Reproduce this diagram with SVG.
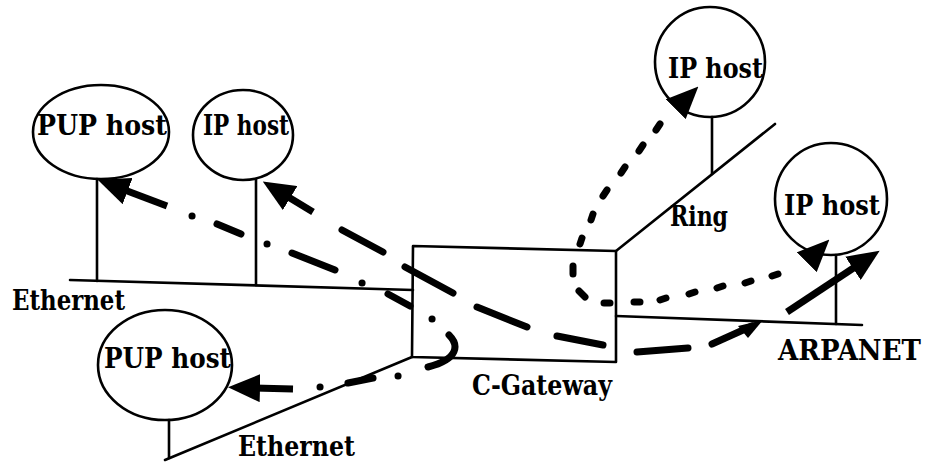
<svg xmlns="http://www.w3.org/2000/svg" width="933" height="463" viewBox="0 0 933 463">
<style>
.net{fill:none;stroke:#000;stroke-width:2.6;stroke-linecap:round;stroke-linejoin:round}
.host{fill:none;stroke:#000;stroke-width:2.6}
.lbl{font-family:"DejaVu Serif","Liberation Serif",serif;font-weight:bold;font-size:27px;fill:#000}
.flow{fill:none;stroke:#000;stroke-width:7;stroke-linecap:round;stroke-linejoin:round}
.shaft{fill:none;stroke:#000;stroke-width:7;stroke-linecap:butt}
.headonly{fill:none;stroke:none}
</style>
<defs>
<marker id="ah" viewBox="0 0 32 28" markerWidth="32" markerHeight="28" markerUnits="userSpaceOnUse" refX="6" refY="14" orient="auto">
<path d="M0,0 L32,14 L0,28 Z" fill="#000"/>
</marker>
</defs>
<rect width="933" height="463" fill="#fff"/>
<g id="networks">
<path class="net" d="M70,280 L413,290"/>
<path class="net" d="M616,251 L775,124"/>
<path class="net" d="M616,316 L862,325"/>
<path class="net" d="M412,357 L165,460"/>
</g>
<g id="c-gateway">
<polygon class="net" points="413,246 616,251 616,362 412,357"/>
<text class="lbl" x="472" y="395" textLength="140" lengthAdjust="spacingAndGlyphs">C-Gateway</text>
</g>
<g id="pup-host-1">
<ellipse class="host" cx="101" cy="132" rx="68" ry="47"/>
<path class="net" d="M97,179 L97,281"/>
<text class="lbl" x="37" y="135" textLength="130" lengthAdjust="spacingAndGlyphs">PUP host</text>
</g>
<g id="ip-host-1">
<ellipse class="host" cx="243" cy="135" rx="50" ry="45"/>
<path class="net" d="M256,179 L256,285"/>
<text class="lbl" x="203" y="135" textLength="86" lengthAdjust="spacingAndGlyphs">IP host</text>
</g>
<g id="ip-host-ring">
<circle class="host" cx="710" cy="62" r="55"/>
<path class="net" d="M712,117 L712,174"/>
<text class="lbl" x="668" y="78" textLength="95" lengthAdjust="spacingAndGlyphs">IP host</text>
</g>
<g id="ip-host-arpanet">
<circle class="host" cx="831" cy="199" r="56"/>
<path class="net" d="M836,255 L836,324"/>
<text class="lbl" x="784" y="215" textLength="96" lengthAdjust="spacingAndGlyphs">IP host</text>
</g>
<g id="pup-host-2">
<ellipse class="host" cx="165" cy="365" rx="67" ry="55"/>
<path class="net" d="M169,420 L169,458"/>
<text class="lbl" x="104" y="368" textLength="127" lengthAdjust="spacingAndGlyphs">PUP host</text>
</g>
<g id="labels">
<text class="lbl" x="12" y="310" textLength="113" lengthAdjust="spacingAndGlyphs">Ethernet</text>
<text class="lbl" x="238" y="456" textLength="117" lengthAdjust="spacingAndGlyphs">Ethernet</text>
<text class="lbl" x="670" y="226" textLength="58" lengthAdjust="spacingAndGlyphs">Ring</text>
<text class="lbl" x="778" y="360" textLength="143" lengthAdjust="spacingAndGlyphs">ARPANET</text>
</g>
<g id="connectors">
<!-- PUP to PUP, dash-dot -->
<path class="shaft" d="M167,206 L122,189" marker-end="url(#ah)"/>
<path class="flow" d="M192,216 l0.1,0 M217,224 L241,234 M267,244 l0.1,0 M292,253 L335,270 M362,283 l0.1,0 M388,294 L410,306 M432,319 l0.1,0 M449,335 C459,345 459,359 428,367 M398,376 l0.1,0 M348,383 L373,378 M320,387 l0.1,0"/>
<path class="shaft" d="M293,389 L254,388" marker-end="url(#ah)"/>
<!-- IP to IP, long dashes -->
<path class="shaft" d="M313,212 L285,195" marker-end="url(#ah)"/>
<path class="flow" d="M342,230 L383,252 M405,267 L453,293 M477,307 L527,327 M557,336 L603,345 M637,352 L688,348 M712,344 L752,326"/>
<polygon points="738,326 763,320 748,338" fill="#000"/>
<path class="shaft" d="M787,312 L858,265" marker-end="url(#ah)"/>
<!-- IP ring to IP arpanet, dotted -->
<path class="headonly" d="M679,106 L680,105" marker-end="url(#ah)"/>
<path class="flow" stroke-width="8" d="M660,124 L656,130 M643,145 L639,151 M625,167 L621,173 M607,190 L603,196 M593,214 L591,220 M582,238 L580,244 M573,266 L573,274 M579,291 L585,297 M604,303 L610,303 M634,302 L640,302 M660,300 L666,298 M689,294 L695,292 M717,288 L723,286 M745,283 L751,281 M772,276 L778,274"/>
<path class="headonly" d="M810,259 L811,258" marker-end="url(#ah)"/>
</g>
</svg>
